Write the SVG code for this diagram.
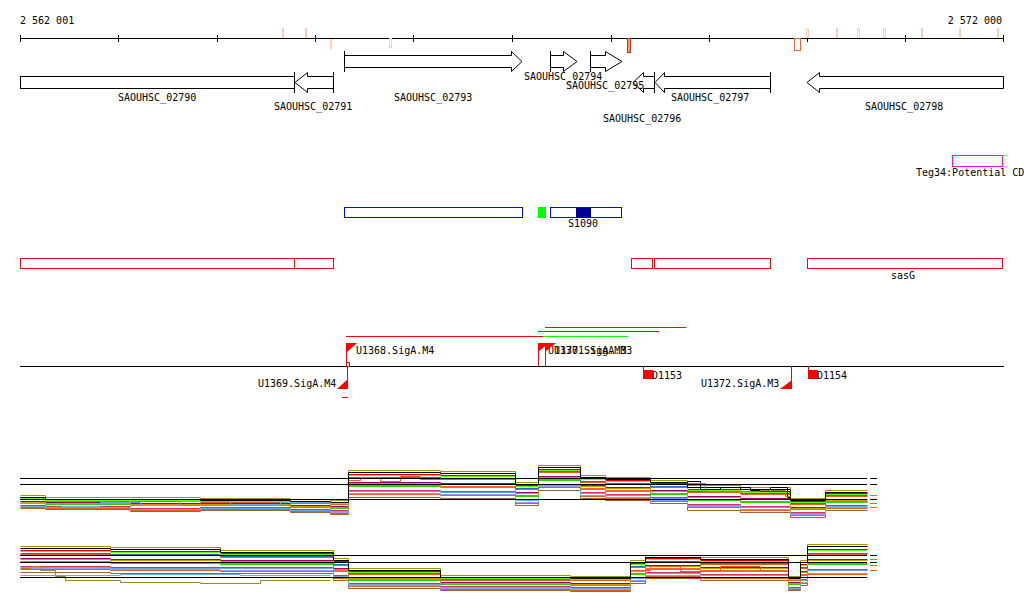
<svg xmlns="http://www.w3.org/2000/svg" xmlns:xlink="http://www.w3.org/1999/xlink" width="1024" height="611" viewBox="0 0 1024 611">
<style>
.t{font-family:"DejaVu Sans Mono","Liberation Mono",monospace;font-size:10px;fill:#000}
.g{fill:#fff;stroke:#000;stroke-width:1}
.bar{stroke:#000;stroke-width:1}
.ax{stroke:#000;stroke-width:1;fill:none}
.pale{fill:#f7cdb8}
.paleo{fill:#fff;stroke:#f7cdb8;stroke-width:1}
.pl{fill:none;stroke-width:1}
.red{fill:#ff0000}
.rl{stroke:#ff0000;stroke-width:1;fill:none}
.rb{fill:#fff;stroke:#ff0000;stroke-width:1}
.bb{fill:#fff;stroke:#0000ff;stroke-width:1}
</style>
<defs>
<path id="t0" d="M20,495 H45 V497 H130 V497 H200 V498 H290 V499 H330 V500 H348 V470 H440 V471 H515 V482 H538 V465 H580 V475 H605 V477 H650 V480 H687 V485 H740 V487 H790 V498 H825 V490 H867"/>
<path id="t1" d="M20,497 H45 V499 H130 V499 H200 V500 H290 V501 H330 V502 H348 V474 H440 V475 H515 V485 H538 V469 H580 V478 H605 V480 H650 V483 H687 V489 H740 V491 H790 V501 H825 V493 H867"/>
<path id="t2" d="M20,499 H45 V501 H130 V501 H200 V502 H290 V503 H330 V504 H348 V478 H440 V479 H515 V489 H538 V472 H580 V482 H605 V484 H650 V487 H687 V492 H740 V494 H790 V504 H825 V496 H867"/>
<path id="t3" d="M20,501 H45 V502 H130 V503 H200 V503 H290 V505 H330 V506 H348 V482 H440 V483 H515 V492 H538 V476 H580 V485 H605 V487 H650 V490 H687 V496 H740 V498 H790 V507 H825 V499 H867"/>
<path id="t4" d="M20,503 H45 V504 H130 V505 H200 V505 H290 V507 H330 V508 H348 V486 H440 V487 H515 V496 H538 V480 H580 V489 H605 V491 H650 V494 H687 V500 H740 V502 H790 V509 H825 V502 H867"/>
<path id="t5" d="M20,505 H45 V506 H130 V508 H200 V507 H290 V509 H330 V510 H348 V490 H440 V491 H515 V499 H538 V484 H580 V492 H605 V494 H650 V497 H687 V504 H740 V506 H790 V512 H825 V505 H867"/>
<path id="t6" d="M20,507 H45 V508 H130 V510 H200 V509 H290 V511 H330 V513 H348 V494 H440 V495 H515 V503 H538 V487 H580 V496 H605 V498 H650 V501 H687 V507 H740 V510 H790 V515 H825 V508 H867"/>
<path id="t7" d="M20,508 H45 V509 H130 V511 H200 V510 H290 V512 H330 V514 H348 V497 H440 V498 H515 V505 H538 V490 H580 V498 H605 V500 H650 V503 H687 V510 H740 V512 H790 V517 H825 V510 H867"/>
<path id="b0" d="M20,546 H110 V547 H220 V550 H333 V558 H348 V568 H440 V575 H570 V576 H630 V560 H645 V555 H700 V557 H788 V576 H800 V560 H807 V544 H867"/>
<path id="b1" d="M20,550 H110 V551 H220 V553 H333 V561 H348 V571 H440 V577 H570 V578 H630 V563 H645 V558 H700 V560 H788 V578 H800 V564 H807 V549 H867"/>
<path id="b2" d="M20,554 H110 V555 H220 V557 H333 V565 H348 V574 H440 V580 H570 V580 H630 V567 H645 V562 H700 V564 H788 V580 H800 V568 H807 V554 H867"/>
<path id="b3" d="M20,558 H110 V559 H220 V560 H333 V568 H348 V577 H440 V582 H570 V583 H630 V570 H645 V565 H700 V567 H788 V582 H800 V571 H807 V559 H867"/>
<path id="b4" d="M20,562 H110 V563 H220 V564 H333 V571 H348 V580 H440 V584 H570 V585 H630 V574 H645 V569 H700 V571 H788 V584 H800 V575 H807 V564 H867"/>
<path id="b5" d="M20,566 H110 V567 H220 V567 H333 V575 H348 V583 H440 V586 H570 V587 H630 V577 H645 V572 H700 V574 H788 V587 H800 V579 H807 V569 H867"/>
<path id="b6" d="M20,569 H110 V570 H220 V571 H333 V578 H348 V586 H440 V589 H570 V590 H630 V581 H645 V576 H700 V578 H788 V589 H800 V583 H807 V574 H867"/>
<path id="b7" d="M20,572 H110 V573 H220 V573 H333 V580 H348 V588 H440 V590 H570 V591 H630 V583 H645 V578 H700 V580 H788 V590 H800 V585 H807 V577 H867"/>
</defs>
<rect width="1024" height="611" fill="#fff"/>

<g id="ruler">
<text class="t" x="20" y="24">2 562 001</text>
<text class="t" x="1002" y="24" text-anchor="end">2 572 000</text>
<path class="ax" d="M20,38.5 H1004 M20.5,35 V42 M118.5,35 V42 M217.5,35 V42 M315.5,35 V42 M413.5,35 V42 M512.5,35 V42 M611.5,35 V42 M709.5,35 V42 M807.5,35 V42 M905.5,35 V42 M1003.5,35 V42"/>
<rect class="pale" x="282" y="28" width="2" height="10"/>
<rect class="pale" x="305" y="28" width="2" height="10"/>
<rect class="pale" x="330" y="39" width="2" height="10"/>
<rect class="paleo" x="389.5" y="38.5" width="2" height="9"/>
<rect x="627.5" y="38.5" width="3" height="14" fill="#f4a080" stroke="#cc3300"/>
<rect x="794.5" y="38.5" width="6" height="12" fill="none" stroke="#ee6040"/>
<rect class="paleo" x="806.5" y="29.5" width="2" height="8"/>
<rect class="pale" x="836" y="28" width="2" height="10"/>
<rect class="paleo" x="857.5" y="28.5" width="2" height="9"/>
<rect class="paleo" x="883.5" y="28.5" width="2" height="9"/>
<rect class="pale" x="921" y="28" width="2" height="10"/>
<rect class="pale" x="959" y="28" width="2" height="10"/>
<rect class="pale" x="997" y="28" width="2" height="10"/>
</g>

<g id="SAOUHSC_02790">
<rect class="g" x="20.5" y="76.5" width="274" height="12"/>
<text class="t" x="118" y="101">SAOUHSC_02790</text>
</g>
<g id="SAOUHSC_02791">
<polygon class="g" points="295,82.5 307.5,72.5 307.5,76.5 333.5,76.5 333.5,88.5 307.5,88.5 307.5,92.5"/>
<path class="bar" d="M294.5,72 V93 M333.5,72 V93"/>
<text class="t" x="274" y="110">SAOUHSC_02791</text>
</g>
<g id="SAOUHSC_02793">
<polygon class="g" points="344.5,55.5 511.5,55.5 511.5,51.5 522,61.5 511.5,71.5 511.5,67.5 344.5,67.5"/>
<path class="bar" d="M344.5,51 V72"/>
<text class="t" x="394" y="101">SAOUHSC_02793</text>
</g>
<g id="SAOUHSC_02796">
<polygon class="g" points="633,82.5 643.5,72.5 643.5,76.5 654.5,76.5 654.5,88.5 643.5,88.5 643.5,92.5"/>
<path class="bar" d="M654.5,72 V93"/>
<text class="t" x="603" y="122">SAOUHSC_02796</text>
</g>
<g id="SAOUHSC_02797">
<polygon class="g" points="655,82.5 664.5,72.5 664.5,76.5 770.5,76.5 770.5,88.5 664.5,88.5 664.5,92.5"/>
<path class="bar" d="M770.5,72 V93"/>
<text class="t" x="671" y="101">SAOUHSC_02797</text>
</g>
<g id="SAOUHSC_02794">
<polygon class="g" points="550.5,55.5 563.5,55.5 563.5,51.5 577,61.5 563.5,71.5 563.5,67.5 550.5,67.5"/>
<path class="bar" d="M550.5,51 V72"/>
<text class="t" x="524" y="80">SAOUHSC_02794</text>
</g>
<g id="SAOUHSC_02795">
<polygon class="g" points="590.5,55.5 605.5,55.5 605.5,51.5 622,61.5 605.5,71.5 605.5,67.5 590.5,67.5"/>
<path class="bar" d="M590.5,51 V72"/>
<text class="t" x="566" y="89">SAOUHSC_02795</text>
</g>
<g id="SAOUHSC_02798">
<polygon class="g" points="807,82.5 819.5,72.5 819.5,76.5 1003.5,76.5 1003.5,88.5 819.5,88.5 819.5,92.5"/>
<text class="t" x="865" y="110">SAOUHSC_02798</text>
</g>

<g id="Teg34">
<rect x="952.5" y="155.5" width="50" height="11" fill="#fff" stroke="#ff00ff"/>
<text class="t" x="916" y="176">Teg34:Potential CD</text>
</g>

<g id="blue1"><rect class="bb" x="344.5" y="207.5" width="178" height="10"/></g>
<g id="green1"><rect x="538" y="207" width="8" height="11" fill="#00ff00"/></g>
<g id="S1090">
<rect class="bb" x="550.5" y="207.5" width="71" height="10"/>
<rect x="576" y="208" width="15" height="10" fill="#000099"/>
<text class="t" x="568" y="227">S1090</text>
</g>

<g id="red1"><rect class="rb" x="20.5" y="258.5" width="274" height="10"/></g>
<g id="red2"><rect class="rb" x="294.5" y="258.5" width="39" height="10"/></g>
<g id="red3"><rect class="rb" x="631.5" y="258.5" width="21" height="10"/></g>
<g id="red4"><rect class="rb" x="654.5" y="258.5" width="116" height="10"/></g>
<g id="sasG">
<rect class="rb" x="807.5" y="258.5" width="195" height="10"/>
<text class="t" x="891" y="279">sasG</text>
</g>

<g id="connectors">
<path class="ax" d="M20,366.5 H1004"/>
<path class="rl" d="M346,336.5 H543"/>
<path d="M543,336.5 H628" stroke="#00ff00" stroke-width="1"/>
<path class="rl" d="M538,331.5 H659"/>
<path class="rl" d="M545,327.5 H686"/>
</g>

<g id="U1368.SigA.M4">
<path class="rl" d="M346.5,343 V366"/>
<polygon class="red" points="346,343 357,343 346,353"/>
<rect x="346.5" y="362.5" width="3" height="4" fill="none" stroke="#ff0000"/>
<text class="t" x="356" y="354">U1368.SigA.M4</text>
</g>
<g id="U1369.SigA.M4">
<path class="rl" d="M347.5,366 V389"/>
<polygon class="red" points="348,389 337,389 348,379"/>
<path class="rl" d="M342,397.5 H348"/>
<text class="t" x="258" y="387">U1369.SigA.M4</text>
</g>
<g id="U1370.SigA.M3">
<path class="rl" d="M538.5,343 V366"/>
<polygon class="red" points="538,343 549,343 538,352"/>
<text class="t" x="548" y="354">U1370.SigA.M3</text>
</g>
<g id="U1371.SigA.M3">
<path class="rl" d="M545.5,343 V366"/>
<polygon class="red" points="545,343 556,343 545,352"/>
<text class="t" x="554" y="354">U1371.SigA.M3</text>
</g>
<g id="D1153">
<path class="rl" d="M643.5,366 V372"/>
<rect class="red" x="643" y="370" width="10" height="9"/>
<text class="t" x="652" y="379">D1153</text>
</g>
<g id="U1372.SigA.M3">
<path class="rl" d="M791.5,366 V389"/>
<polygon class="red" points="792,389 780,389 792,380"/>
<text class="t" x="701" y="387">U1372.SigA.M3</text>
</g>
<g id="D1154">
<path class="rl" d="M808.5,366 V372"/>
<rect class="red" x="808" y="370" width="10" height="9"/>
<text class="t" x="817" y="379">D1154</text>
</g>

<g id="plot1">
<g transform="translate(0.5,0.5)">
<use xlink:href="#t7" class="pl" stroke="#996633"/>
<use xlink:href="#t6" class="pl" stroke="#e06020"/>
<use xlink:href="#t6" class="pl" stroke="#9999ff" transform="translate(0,-1)"/>
<use xlink:href="#t5" class="pl" stroke="#cc3366"/>
<use xlink:href="#t5" class="pl" stroke="#66aaee" transform="translate(0,1)"/>
<use xlink:href="#t4" class="pl" stroke="#33cc00"/>
<use xlink:href="#t4" class="pl" stroke="#ff6633" transform="translate(0,-1)"/>
<use xlink:href="#t3" class="pl" stroke="#990066"/>
<use xlink:href="#t3" class="pl" stroke="#cc9900" transform="translate(0,1)"/>
<use xlink:href="#t2" class="pl" stroke="#e06020"/>
<use xlink:href="#t2" class="pl" stroke="#3366cc" transform="translate(0,-1)"/>
<use xlink:href="#t1" class="pl" stroke="#cc0000"/>
<use xlink:href="#t1" class="pl" stroke="#66ff00" transform="translate(0,1)"/>
<use xlink:href="#t0" class="pl" stroke="#999900"/>
<use xlink:href="#t0" class="pl" stroke="#000000" transform="translate(0,2)"/>
<path class="pl" stroke="#000000" d="M687,481 H700 V489 H720 V487 H750 V490 H770 V487 H787 V497 H790"/>
<path class="pl" stroke="#998822" d="M687,483 H705 V491 H760 V490 H785 V496 H790"/>
<path class="pl" stroke="#e06020" d="M348,480 H360 V477 H380 V481 H400 V476 H420 V479 H440"/>
<path class="pl" stroke="#66aaee" d="M20,503 H60 V506 H100 V502 H140 V505 H180 V501 H230 V504 H280 V502 H330"/>
</g>
<path class="ax" d="M20,478.5 H867 M20,484.5 H867 M20,499.5 H867 M870,478.5 H877 M870,484.5 H877 M870,499.5 H877"/>
<path class="pl" stroke="#e06020" d="M870,503.5 H877 M870,507.5 H877"/>
<path class="pl" stroke="#33cc00" d="M870,495.5 H877"/>
</g>

<g id="plot2">
<g transform="translate(0.5,0.5)">
<use xlink:href="#b7" class="pl" stroke="#996633"/>
<use xlink:href="#b6" class="pl" stroke="#e06020"/>
<use xlink:href="#b6" class="pl" stroke="#9999ff" transform="translate(0,-1)"/>
<use xlink:href="#b5" class="pl" stroke="#cc3366"/>
<use xlink:href="#b5" class="pl" stroke="#66aaee" transform="translate(0,1)"/>
<use xlink:href="#b4" class="pl" stroke="#33cc00"/>
<use xlink:href="#b4" class="pl" stroke="#ff6633" transform="translate(0,-1)"/>
<use xlink:href="#b3" class="pl" stroke="#990066"/>
<use xlink:href="#b3" class="pl" stroke="#cc9900" transform="translate(0,1)"/>
<use xlink:href="#b2" class="pl" stroke="#e06020"/>
<use xlink:href="#b2" class="pl" stroke="#3366cc" transform="translate(0,-1)"/>
<use xlink:href="#b1" class="pl" stroke="#cc0000"/>
<use xlink:href="#b1" class="pl" stroke="#66ff00" transform="translate(0,1)"/>
<use xlink:href="#b0" class="pl" stroke="#999900"/>
<use xlink:href="#b0" class="pl" stroke="#000000" transform="translate(0,2)"/>
<path class="pl" stroke="#998822" d="M20,568 H30 V566 H40 V570 H55 V576 H65 V580 H120 V582 H200 V583 H260 V580 H330"/>
<path class="pl" stroke="#66aaee" d="M20,575 H120 V574 H240 V575 H330"/>
<path class="pl" stroke="#e06020" d="M630,570 H650 V566 H680 V571 H720 V566 H760 V570 H788"/>
</g>
<path class="ax" d="M20,555.5 H867 M20,562.5 H867 M20,577.5 H867 M870,555.5 H877 M870,562.5 H877"/>
<path class="pl" stroke="#e06020" d="M870,565.5 H877 M870,570.5 H877"/>
<path class="pl" stroke="#33cc00" d="M870,559.5 H877"/>
</g>
</svg>
